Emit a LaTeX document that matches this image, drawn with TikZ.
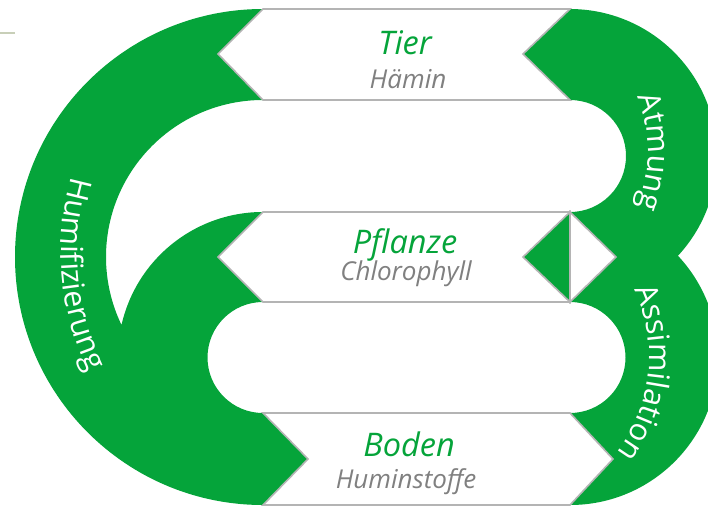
\documentclass[tikz,border=0pt]{standalone}
\usepackage{fontspec}
\setmainfont{Open Sans}
\usetikzlibrary{decorations.text,calc}
\definecolor{grn}{RGB}{5,164,58}
\definecolor{lgrey}{RGB}{180,180,180}
\definecolor{tgrey}{RGB}{128,128,128}
\definecolor{olivegrey}{RGB}{200,207,184}
\newcommand\arcfont{\fontsize{30.5}{32}\selectfont\color{white}}
\begin{document}
\begin{tikzpicture}[x=1pt,y=-1pt,
  band/.style={fill=white,draw=lgrey,line width=1.6pt,line join=miter},
  title/.style={anchor=base,inner sep=0pt,text=grn,font=\fontsize{32.5}{34}\selectfont\itshape},
  sub/.style={anchor=base,inner sep=0pt,text=tgrey,font=\fontsize{26}{28}\selectfont\itshape},
  arclabel/.style={decorate,decoration={text along path,text align=center,text={|\arcfont|#1}}}
]
\useasboundingbox (0,0) rectangle (708,506);
\clip (0,0) rectangle (708,506);
% centres of the text arcs
\coordinate (tH) at (335,252);
\coordinate (tA) at (497,152);
\coordinate (tS) at (491,357);

% small line top left
\draw[olivegrey,line width=2pt] (0,33) -- (15,33);

% left green ribbon (Humifizierung)
\fill[grn] (263,9) -- (218,54) -- (263,100)
  arc[start angle=270,end angle=154.33,radius=157]
  arc[start angle=192.74,end angle=270,radius=145]
  -- (218,257) -- (263,302)
  arc[start angle=270,end angle=90,radius=55.5]
  -- (308,459) -- (263,505)
  arc[start angle=90,end angle=270,radius=248] -- cycle;

% right green ribbon (Atmung / Assimilation)
\fill[grn] (570,9) -- (523,54) -- (570,100)
  arc[start angle=270,end angle=450,radius=56]
  -- (523,257) -- (570,302)
  arc[start angle=270,end angle=450,radius=55.5]
  -- (613,459) -- (570,505)
  arc[start angle=90,end angle=-43.15,radius=148]
  arc[start angle=42.74,end angle=-90,radius=147] -- cycle;

% white bands
\draw[band] (263,9) -- (570,9) -- (523,54) -- (570,100) -- (263,100) -- (218,54) -- cycle;
\draw[band] (263,212) -- (570,212) -- (570,302) -- (263,302) -- (218,257) -- cycle;
\filldraw[fill=grn,draw=lgrey,line width=1.6pt] (570,212) -- (523,257) -- (570,302) -- cycle;
\filldraw[fill=white,draw=lgrey,line width=1.6pt] (570,212) -- (616,257) -- (570,302) -- cycle;
\draw[band] (263,413) -- (570,413) -- (613,459) -- (570,505) -- (263,505) -- (308,459) -- cycle;

% band texts
\node[title] (tier) at (405,54) {Tier};
\node[sub] (haemin) at (408,88) {Hämin};
\node[title] (pflanze) at (405,253) {Pflanze};
\node[sub] (chloro) at (406,280) {Chlorophyll};
\node[title] (boden) at (409,456) {Boden};
\node[sub] (humin) at (406,488) {Huminstoffe};

% arc labels
\path[arclabel=Humifizierung] ([shift={(215:274)}]tH) arc[start angle=215,end angle=135,radius=274];
\path[arclabel=Atmung] ([shift={(-50:151)}]tA) arc[start angle=-50,end angle=50,radius=151];
\path[arclabel=Assimilation] ([shift={(-50:158)}]tS) arc[start angle=-50,end angle=62,radius=158];
\end{tikzpicture}
\end{document}
